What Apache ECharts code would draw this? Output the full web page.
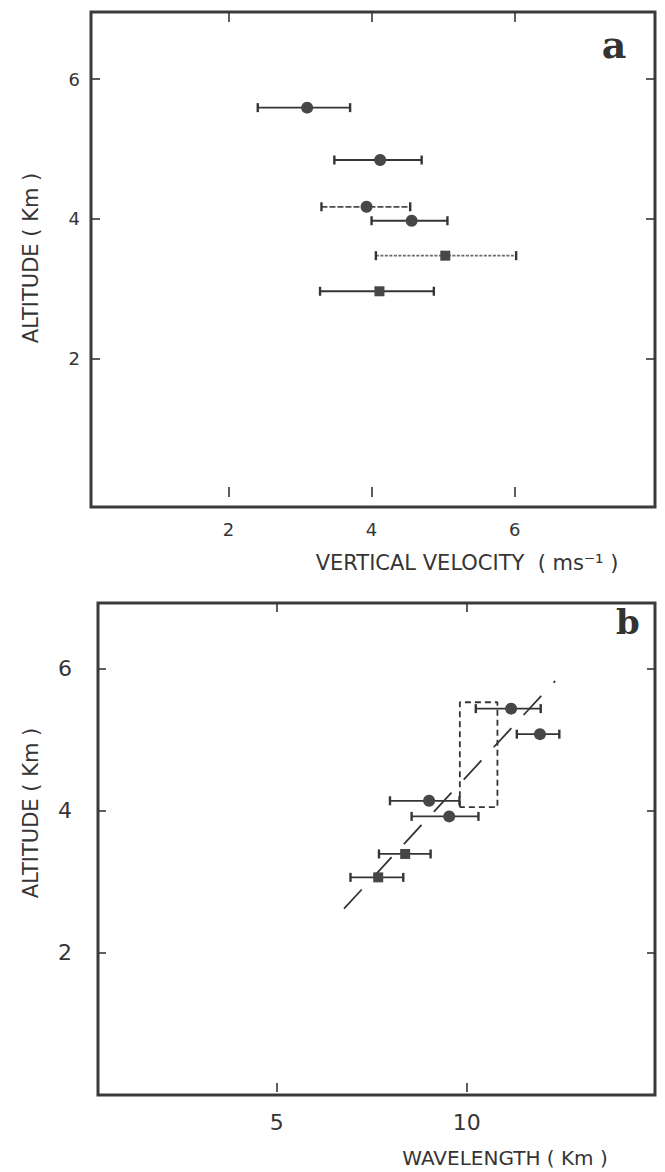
<!DOCTYPE html>
<html><head><meta charset="utf-8">
<script src="https://cdn.jsdelivr.net/npm/echarts@6/dist/echarts.min.js"></script>
<style>html,body{margin:0;padding:0;background:#fff}#c{width:665px;height:1172px}</style>
</head><body><div id="c"></div>
<script>
// ---- Panel a : vertical velocity vs altitude ----
const aVelocity     = [3.10, 4.12, 3.93, 4.56, 5.03, 4.11];
const aVelocityLow  = [2.41, 3.48, 3.30, 4.00, 4.06, 3.28];
const aVelocityHigh = [3.70, 4.70, 4.54, 5.06, 6.02, 4.87];
const aAltitude     = [5.59, 4.84, 4.17, 3.97, 3.47, 2.96];
const aSymbol       = ['circle', 'circle', 'circle', 'circle', 'rect', 'rect'];
const aBarType      = ['solid', 'solid', 'dashed', 'solid', 'dotted', 'solid'];
const aXTicks = [2, 4, 6];
const aYTicks = [2, 4, 6];

// ---- Panel b : wavelength vs altitude ----
const bWavelength     = [11.17, 11.93, 9.01, 9.54, 8.38, 7.67];
const bWavelengthLow  = [10.24, 11.32, 7.98, 8.55, 7.69, 6.94];
const bWavelengthHigh = [11.95, 12.44, 9.81, 10.31, 9.05, 8.33];
const bAltitude       = [5.44, 5.08, 4.14, 3.92, 3.39, 3.06];
const bSymbol         = ['circle', 'circle', 'circle', 'circle', 'rect', 'rect'];
const bBarType        = ['solid', 'solid', 'solid', 'solid', 'solid', 'solid'];
const bFitWavelength  = [6.77, 12.33];
const bFitAltitude    = [2.62, 5.83];
const bBoxWavelength  = [9.82, 10.81];
const bBoxAltitude    = [4.05, 5.53];
const bXTicks = [5, 10];
const bYTicks = [2, 4, 6];

const INK = '#353535';
const FONT = 'DejaVu Sans';

function errorBars(low, high, y, types, gi) {
  return {
    type: 'custom', xAxisIndex: gi * 4, yAxisIndex: gi * 2, z: 2,
    data: low.map((l, i) => [l, high[i], y[i]]),
    renderItem: function (params, api) {
      const i = params.dataIndex;
      const p1 = api.coord([api.value(0), api.value(2)]);
      const p2 = api.coord([api.value(1), api.value(2)]);
      const t = types[i];
      const dash = t === 'dashed' ? [6, 2] : (t === 'dotted' ? [3, 1.5] : null);
      const col = t === 'dotted' ? '#6a6a6a' : (t === 'dashed' ? '#4a4a4a' : INK);
      const cap = 4.5;
      return {
        type: 'group',
        children: [
          { type: 'line', shape: { x1: p1[0], y1: p1[1], x2: p2[0], y2: p2[1] },
            style: { stroke: col, lineWidth: 1.8, lineDash: dash } },
          { type: 'line', shape: { x1: p1[0], y1: p1[1] - cap, x2: p1[0], y2: p1[1] + cap },
            style: { stroke: INK, lineWidth: 2.4 } },
          { type: 'line', shape: { x1: p2[0], y1: p2[1] - cap, x2: p2[0], y2: p2[1] + cap },
            style: { stroke: INK, lineWidth: 2.4 } }
        ]
      };
    }
  };
}

function points(x, y, sym, gi) {
  return {
    type: 'scatter', xAxisIndex: gi * 4, yAxisIndex: gi * 2, z: 3,
    data: x.map((v, i) => ({ value: [v, y[i]], symbol: sym[i], symbolSize: sym[i] === 'rect' ? 10 : 12 })),
    itemStyle: { color: '#474747', opacity: 1 }
  };
}

function xAxes(gi, min, max, ticks, fs, margin, bottomTickOffset, tickLen) {
  const base = { type: 'value', gridIndex: gi, min: min, max: max, splitLine: { show: false },
    axisLine: { show: false } };
  return [
    Object.assign({}, base, { position: 'bottom', axisTick: { show: false },
      axisLabel: { show: true, customValues: ticks, fontSize: fs, fontFamily: FONT, color: INK, margin: margin } }),
    Object.assign({}, base, { position: 'bottom', offset: bottomTickOffset,
      axisTick: { show: true, inside: true, length: tickLen, customValues: ticks, lineStyle: { color: INK, width: 1.6 } },
      axisLabel: { show: false } }),
    Object.assign({}, base, { position: 'top',
      axisTick: { show: true, inside: true, length: tickLen, customValues: ticks, lineStyle: { color: INK, width: 1.6 } },
      axisLabel: { show: false } }),
    Object.assign({}, base, { position: 'top', axisTick: { show: false }, axisLabel: { show: false } })
  ];
}

function yAxes(gi, min, max, ticks, fs, margin, tickLen) {
  const base = { type: 'value', gridIndex: gi, min: min, max: max, splitLine: { show: false },
    axisLine: { show: false } };
  return [
    Object.assign({}, base, { position: 'left',
      axisTick: { show: true, inside: true, length: tickLen, customValues: ticks, lineStyle: { color: INK, width: 1.6 } },
      axisLabel: { show: true, customValues: ticks, fontSize: fs, fontFamily: FONT, color: INK, margin: margin } }),
    Object.assign({}, base, { position: 'right',
      axisTick: { show: true, inside: true, length: tickLen, customValues: ticks, lineStyle: { color: INK, width: 1.6 } },
      axisLabel: { show: false } })
  ];
}

const fitData = bFitWavelength.map((v, i) => [v, bFitAltitude[i]]);
const boxData = [
  [bBoxWavelength[0], bBoxAltitude[0]], [bBoxWavelength[0], bBoxAltitude[1]],
  [bBoxWavelength[1], bBoxAltitude[1]], [bBoxWavelength[1], bBoxAltitude[0]],
  [bBoxWavelength[0], bBoxAltitude[0]]
];

const chart = echarts.init(document.getElementById('c'), null, { renderer: 'svg' });
chart.setOption({
  animation: false,
  backgroundColor: '#ffffff',
  grid: [
    { left: 91, top: 12, width: 564, height: 495, show: true, borderColor: '#3a3a3a', borderWidth: 3, backgroundColor: 'transparent' },
    { left: 98, top: 603, width: 557, height: 492, show: true, borderColor: '#3a3a3a', borderWidth: 3, backgroundColor: 'transparent' }
  ],
  xAxis: [].concat(
    xAxes(0, 0.08, 7.96, aXTicks, 18, 13, -10, 10),
    xAxes(1, 0.29, 14.96, bXTicks, 22, 16, -3, 9)
  ),
  yAxis: [].concat(
    yAxes(0, -0.13, 6.96, aYTicks, 18, 11, 9),
    yAxes(1, -0.01, 6.93, bYTicks, 22, 26, 8)
  ),
  series: [
    errorBars(aVelocityLow, aVelocityHigh, aAltitude, aBarType, 0),
    points(aVelocity, aAltitude, aSymbol, 0),
    {
      type: 'line', xAxisIndex: 4, yAxisIndex: 2, z: 1, data: fitData, symbol: 'none',
      lineStyle: { color: INK, width: 1.8, type: [26, 18] }
    },
    {
      type: 'line', xAxisIndex: 4, yAxisIndex: 2, z: 1, data: boxData, symbol: 'none',
      lineStyle: { color: INK, width: 1.8, type: [6, 4] }
    },
    errorBars(bWavelengthLow, bWavelengthHigh, bAltitude, bBarType, 1),
    points(bWavelength, bAltitude, bSymbol, 1)
  ],
  graphic: [
    { type: 'text', x: 614, y: 44, style: { text: 'a', font: 'bold 38px "DejaVu Serif"', fill: '#333', align: 'center', verticalAlign: 'middle' } },
    { type: 'text', x: 628, y: 622, style: { text: 'b', font: 'bold 34px "DejaVu Serif"', fill: '#333', align: 'center', verticalAlign: 'middle' } },
    { type: 'text', x: 31, y: 258, rotation: Math.PI / 2, style: { text: 'ALTITUDE ( Km )', font: '21px "DejaVu Sans"', fill: INK, align: 'center', verticalAlign: 'middle' } },
    { type: 'text', x: 31, y: 813, rotation: Math.PI / 2, style: { text: 'ALTITUDE ( Km )', font: '21px "DejaVu Sans"', fill: INK, align: 'center', verticalAlign: 'middle' } },
    { type: 'text', x: 467, y: 563, style: { text: 'VERTICAL VELOCITY  ( ms\u207B\u00B9 )', font: '21px "DejaVu Sans"', fill: INK, align: 'center', verticalAlign: 'middle' } },
    { type: 'text', x: 505, y: 1158, style: { text: 'WAVELENGTH ( Km )', font: '20px "DejaVu Sans"', fill: INK, align: 'center', verticalAlign: 'middle' } }
  ]
});
</script>
</body></html>
